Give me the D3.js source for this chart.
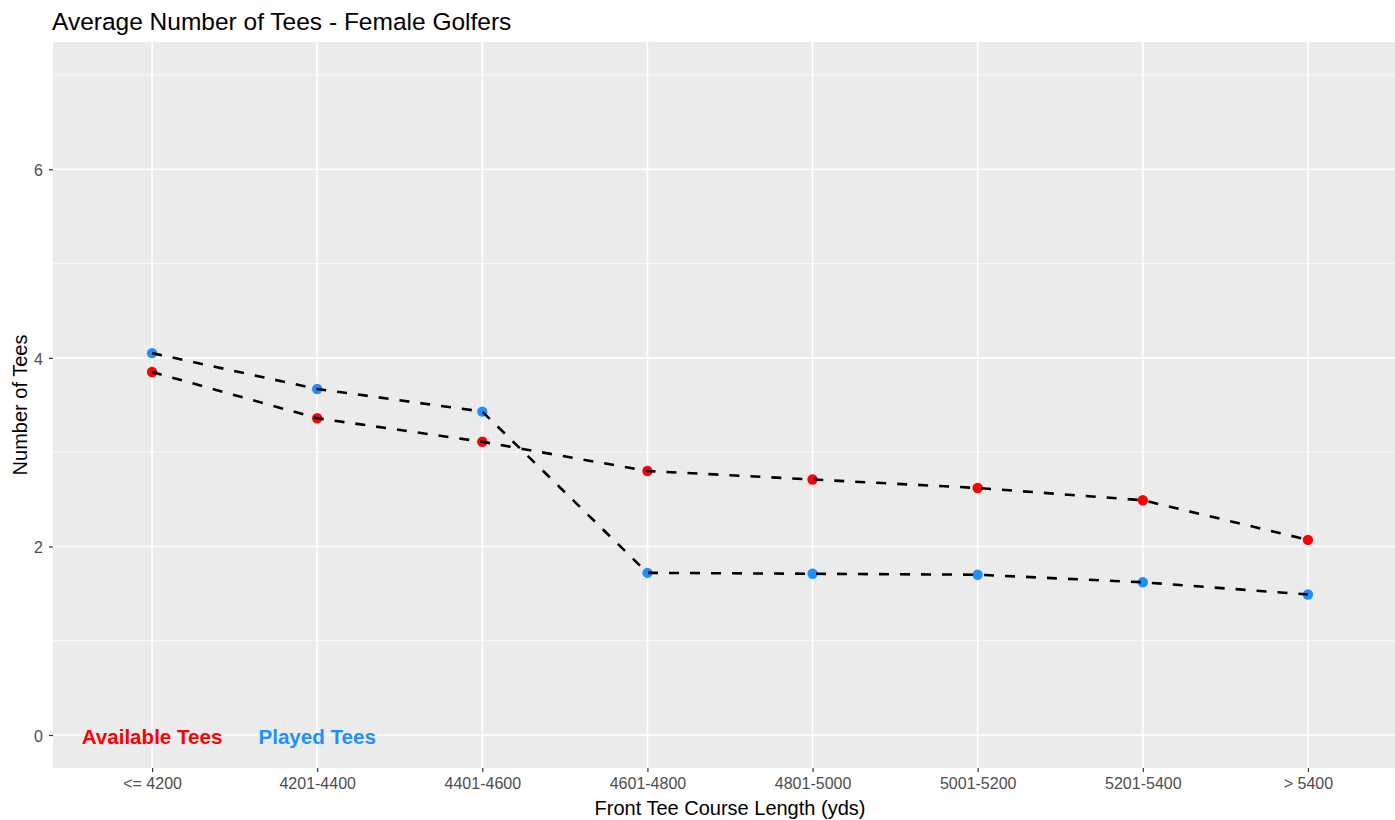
<!DOCTYPE html>
<html>
<head>
<meta charset="utf-8">
<script src="https://cdn.jsdelivr.net/npm/d3@7"></script>
<style>
  html, body { margin: 0; padding: 0; background: #fff; }
  svg { display: block; font-family: "Liberation Sans", Arial, sans-serif; }
</style>
</head>
<body>
<svg id="chart" width="1395" height="820"></svg>
<script>
const categories = ["<= 4200", "4201-4400", "4401-4600", "4601-4800", "4801-5000", "5001-5200", "5201-5400", "> 5400"];
const availableTees = [3.85, 3.36, 3.11, 2.80, 2.71, 2.62, 2.49, 2.07];
const playedTees = [4.05, 3.67, 3.43, 1.72, 1.71, 1.70, 1.62, 1.49];
const yMajorTicks = [0, 2, 4, 6];
const yMinorTicks = [1, 3, 5, 7];
const seriesLabels = [
  { text: "Available Tees", cat: "<= 4200", color: "#FF0000" },
  { text: "Played Tees", cat: "4201-4400", color: "#1E90FF" }
];
const seriesColors = { available: "#FF0000", played: "#1E90FF" };

const svg = d3.select("#chart");
const panel = { left: 53, right: 1407, top: 42, bottom: 768 };

const x = d3.scalePoint().domain(categories).range([panel.left, panel.right]).padding(0.6);
const y = d3.scaleLinear().domain([-0.35, 7.35]).range([panel.bottom, panel.top]);

// panel background
svg.append("rect")
  .attr("x", panel.left).attr("y", panel.top)
  .attr("width", panel.right - panel.left).attr("height", panel.bottom - panel.top)
  .attr("fill", "#EBEBEB");

// minor gridlines
svg.append("g").selectAll("line").data(yMinorTicks).join("line")
  .attr("x1", panel.left).attr("x2", panel.right)
  .attr("y1", d => y(d)).attr("y2", d => y(d))
  .attr("stroke", "#fff").attr("stroke-width", 0.8);

// major gridlines
svg.append("g").selectAll("line").data(yMajorTicks).join("line")
  .attr("x1", panel.left).attr("x2", panel.right)
  .attr("y1", d => y(d)).attr("y2", d => y(d))
  .attr("stroke", "#fff").attr("stroke-width", 1.6);
svg.append("g").selectAll("line").data(categories).join("line")
  .attr("x1", d => x(d)).attr("x2", d => x(d))
  .attr("y1", panel.top).attr("y2", panel.bottom)
  .attr("stroke", "#fff").attr("stroke-width", 1.6);

// axes
const xAxis = svg.append("g")
  .attr("transform", `translate(0,${panel.bottom})`)
  .call(d3.axisBottom(x).tickSize(4).tickPadding(6));
xAxis.select(".domain").remove();
xAxis.selectAll(".tick line").attr("stroke", "#333").attr("stroke-width", 1.2);
xAxis.selectAll(".tick text").attr("fill", "#4D4D4D").attr("font-size", "16px")
  .attr("font-family", "Liberation Sans, Arial, sans-serif");

const yAxis = svg.append("g")
  .attr("transform", `translate(${panel.left},0)`)
  .call(d3.axisLeft(y).tickValues(yMajorTicks).tickSize(4).tickPadding(6));
yAxis.select(".domain").remove();
yAxis.selectAll(".tick line").attr("stroke", "#333").attr("stroke-width", 1.2);
yAxis.selectAll(".tick text").attr("fill", "#4D4D4D").attr("font-size", "16px")
  .attr("dy", "0.4em")
  .attr("font-family", "Liberation Sans, Arial, sans-serif");

// points
const series = [
  { key: "available", values: availableTees },
  { key: "played", values: playedTees }
];
series.forEach(s => {
  svg.append("g").selectAll("circle").data(s.values).join("circle")
    .attr("cx", (d, i) => x(categories[i]))
    .attr("cy", d => y(d))
    .attr("r", 5.2)
    .attr("fill", seriesColors[s.key]);
});

// dashed lines on top
const line = d3.line().x((d, i) => x(categories[i])).y(d => y(d));
series.forEach(s => {
  svg.append("path")
    .attr("d", line(s.values))
    .attr("fill", "none")
    .attr("stroke", "#000")
    .attr("stroke-width", 2.6)
    .attr("stroke-dasharray", "10,11");
});

// series labels
svg.append("g").selectAll("text").data(seriesLabels).join("text")
  .attr("x", d => x(d.cat))
  .attr("y", y(0))
  .attr("dy", "0.42em")
  .attr("text-anchor", "middle")
  .attr("font-size", "20.6px")
  .attr("font-weight", "bold")
  .attr("fill", d => d.color)
  .text(d => d.text);

// titles
svg.append("text")
  .attr("x", 52).attr("y", 30)
  .attr("font-size", "24.5px").attr("fill", "#000")
  .text("Average Number of Tees - Female Golfers");

svg.append("text")
  .attr("x", (panel.left + panel.right) / 2).attr("y", 815)
  .attr("text-anchor", "middle")
  .attr("font-size", "20px").attr("fill", "#000")
  .text("Front Tee Course Length (yds)");

svg.append("text")
  .attr("transform", `translate(27,${(panel.top + panel.bottom) / 2}) rotate(-90)`)
  .attr("text-anchor", "middle")
  .attr("font-size", "20px").attr("fill", "#000")
  .text("Number of Tees");
</script>
</body>
</html>
